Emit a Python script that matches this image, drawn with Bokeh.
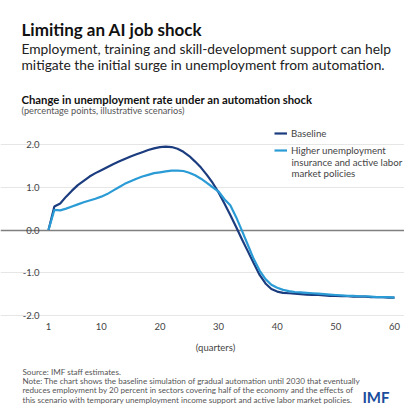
from bokeh.plotting import figure
from bokeh.layouts import column
from bokeh.models import Label, Legend, LegendItem, FixedTicker, Range1d, Grid
from bokeh.embed import file_html
from bokeh.resources import INLINE

quarters = list(range(1, 61))
baseline = [0.0, 0.55, 0.62, 0.78, 0.92, 1.05, 1.15, 1.25, 1.33, 1.40,
            1.47, 1.54, 1.60, 1.66, 1.72, 1.77, 1.82, 1.87, 1.91, 1.94,
            1.95, 1.94, 1.90, 1.83, 1.73, 1.60, 1.46, 1.29, 1.10, 0.88,
            0.62, 0.35, 0.07, -0.22, -0.50, -0.78, -1.05, -1.25, -1.38, -1.44,
            -1.47, -1.48, -1.49, -1.50, -1.51, -1.52, -1.52, -1.53, -1.54, -1.54,
            -1.55, -1.55, -1.56, -1.56, -1.56, -1.57, -1.57, -1.57, -1.58, -1.58]
policy = [0.0, 0.47, 0.46, 0.50, 0.55, 0.60, 0.65, 0.69, 0.73, 0.78,
          0.84, 0.92, 1.00, 1.08, 1.14, 1.20, 1.25, 1.29, 1.33, 1.35,
          1.37, 1.39, 1.39, 1.38, 1.34, 1.28, 1.20, 1.10, 1.00, 0.90,
          0.72, 0.58, 0.30, -0.02, -0.35, -0.68, -0.95, -1.15, -1.28, -1.35,
          -1.40, -1.43, -1.45, -1.46, -1.47, -1.48, -1.49, -1.50, -1.51, -1.52,
          -1.53, -1.54, -1.54, -1.55, -1.55, -1.56, -1.57, -1.57, -1.57, -1.58]
x_ticks = [1, 10, 20, 30, 40, 50, 60]
y_ticks = [-2, -1, 0, 1, 2]
y_tick_labels = ["-2.0", "-1.0", "0.0", "1.0", "2.0"]
series_names = ["Baseline", "Higher unemployment"]
legend_extra = ["insurance and active labor", "market policies"]
x_label = "(quarters)"

title = "Limiting an AI job shock"
subtitle = ["Employment, training and skill-development support can help",
            "mitigate the initial surge in unemployment from automation."]
chart_title = "Change in unemployment rate under an automation shock"
chart_sub = "(percentage points, illustrative scenarios)"
notes = ["Source: IMF staff estimates.",
         "Note: The chart shows the baseline simulation of gradual automation until 2030 that eventually",
         "reduces employment by 20 percent in sectors covering half of the economy and the effects of",
         "this scenario with temporary unemployment income support and active labor market policies."]
logo = "IMF"

FONT = "Lato"
DARK = "#1b3c7e"
LIGHT = "#2b9bd6"
W = 404
MAIN_H, BOT_H = 338, 66

# plot-area geometry in page pixels
PX_L, PX_R = 48, 394      # x = 1 and x = 60
PY_T, PY_B = 144, 315     # y = 2 and y = -2
FB = 321                  # frame bottom of main figure (a little below y = -2)
x_ppu = (PX_R - PX_L) / (x_ticks[-1] - x_ticks[0])
y_ppu = (PY_B - PY_T) / (y_ticks[-1] - y_ticks[0])


def lab(f, text, x, y, size, style="normal", color="#222222", align="left", fb=FB):
    # x, y in page pixels (y = text baseline); screen units are frame-relative
    f.add_layout(Label(x=x, y=fb - y, x_units="screen", y_units="screen", text=text,
                       text_font=FONT, text_font_size=size, text_font_style=style,
                       text_color=color, text_baseline="alphabetic", text_align=align))


# ---- main figure: frame covers page x 0..404, y 0..321
p = figure(width=W, height=MAIN_H, output_backend="svg", toolbar_location=None,
           x_range=Range1d(x_ticks[0] - PX_L / x_ppu, x_ticks[-1] + (W - PX_R) / x_ppu),
           y_range=Range1d(y_ticks[0] - (FB - PY_B) / y_ppu, y_ticks[-1] + PY_T / y_ppu),
           y_axis_location=None,
           min_border_left=0, min_border_right=0, min_border_top=0,
           min_border_bottom=MAIN_H - FB)
p.outline_line_color = None
p.background_fill_color = "white"
p.border_fill_color = "white"
p.xgrid.visible = False
p.ygrid.visible = False
p.add_layout(Grid(dimension=1, ticker=FixedTicker(ticks=[-2, -1, 1, 2]),
                  bounds=(x_ticks[0], x_ticks[-1]), grid_line_color="#e6e6e6", grid_line_width=1))
p.add_layout(Grid(dimension=1, ticker=FixedTicker(ticks=[0]),
                  bounds=(x_ticks[0], x_ticks[-1]), grid_line_color="#7f7f7f", grid_line_width=1.3))

r1 = p.line(quarters, baseline, line_color=DARK, line_width=2.2)
r2 = p.line(quarters, policy, line_color=LIGHT, line_width=2.2)

p.xaxis.ticker = FixedTicker(ticks=x_ticks)
ax = p.xaxis[0]
ax.axis_line_color = None
ax.minor_tick_line_color = None
ax.major_tick_line_color = None
ax.major_tick_out = 0
ax.major_tick_in = 0
ax.major_label_standoff = 1
ax.major_label_text_font = FONT
ax.major_label_text_font_size = "9.5px"
ax.major_label_text_color = "#444444"

for t, s in zip(y_ticks, y_tick_labels):
    p.add_layout(Label(x=x_ticks[0], y=t, x_offset=-9, text=s, text_align="right",
                       text_baseline="middle", text_font=FONT, text_font_size="9.5px",
                       text_color="#444444"))

legend = Legend(items=[LegendItem(label=series_names[0], renderers=[r1]),
                       LegendItem(label=series_names[1], renderers=[r2])],
                location=(274, FB - 156), orientation="vertical",
                background_fill_alpha=0, border_line_color=None,
                label_text_font=FONT, label_text_font_size="9.7px", label_text_color="#444444",
                glyph_width=13, glyph_height=10, label_standoff=4, spacing=5, padding=0,
                label_height=10, margin=0)
p.add_layout(legend, "center")
lab(p, legend_extra[0], 291, 161.5, "9.7px", "normal", "#444444")
lab(p, legend_extra[1], 291, 172, "9.7px", "normal", "#444444")

lab(p, title, 21, 29, "17px", "bold", "#111111")
lab(p, subtitle[0], 21, 48, "13.8px", "normal", "#222222")
lab(p, subtitle[1], 21, 64, "13.8px", "normal", "#222222")
lab(p, chart_title, 21, 99, "11.3px", "bold", "#111111")
lab(p, chart_sub, 21, 109.5, "9.2px", "normal", "#555555")

# ---- bottom figure (page y 338..404)
bot = figure(width=W, height=BOT_H, output_backend="svg", toolbar_location=None,
             x_range=Range1d(0, 1), y_range=Range1d(0, 1),
             x_axis_location=None, y_axis_location=None,
             min_border_left=0, min_border_right=0, min_border_top=0, min_border_bottom=0)
bot.grid.visible = False
bot.outline_line_color = None
bot.border_fill_color = "white"
BB = MAIN_H + BOT_H
lab(bot, x_label, 215, 347, "9.5px", "normal", "#444444", align="center", fb=BB)
for i, n in enumerate(notes):
    lab(bot, n, 22, 371 + i * 9.4, "8.1px", "normal", "#555555", fb=BB)
lab(bot, logo, 389, 396, "15px", "bold", "#1a4d9c", align="right", fb=BB)

layout = column(p, bot, spacing=0)
open("out.html", "w").write(file_html(layout, INLINE))
